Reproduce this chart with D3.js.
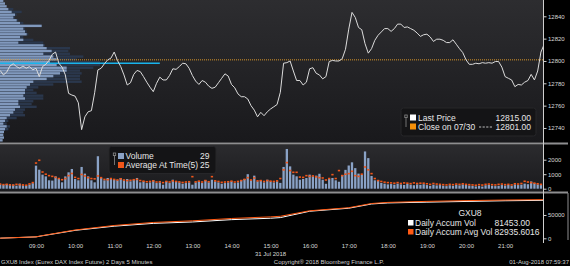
<!doctype html>
<html lang="en">
<head>
  <meta charset="utf-8">
  <title>GXU8 Index</title>
  <script src="https://d3js.org/d3.v7.min.js"></script>
  <style>
    body { margin: 0; background: #000; }
    svg { display: block; font-family: "Liberation Sans", Arial, sans-serif; }
  </style>
</head>
<body>
<div id="chart"></div>
<script>
var width = 570, height = 266;

// 5 minute closes, 08:05 .. 22:00 (31 Jul 2018)
var prices = [
  12791.5,12787.5,12790,12795.5,12797.5,12795,12793.5,12795.5,12793.5,12795,
  12792,12793.5,12786,12795,12797,12800.5,12806,12808,12798,12794.5,
  12787.5,12771,12769.5,12768.5,12762.5,12738.5,12750,12754.5,12755.5,12771.5,
  12792,12793.5,12797.5,12801,12802.5,12808,12800.5,12795,12787.5,12778.5,
  12780.5,12788,12791.5,12790.5,12786,12781,12776.5,12772.5,12780,12785.5,
  12783,12783,12787,12793,12792.5,12795,12798,12797.5,12793.5,12787,
  12782,12779,12782.5,12781,12777.5,12775.5,12776.5,12780.5,12784.5,12788.5,
  12786.5,12779,12776,12770.5,12768,12768,12766,12760,12756,12750,
  12754,12751,12754.5,12757,12759,12761,12772,12798,12798.5,12800,
  12791,12782.5,12782.5,12778.5,12781,12793,12794,12789,12787.5,12784,
  12786,12799.5,12800.5,12800,12800,12802,12810.5,12828.5,12843.5,12839,
  12830,12828,12815.5,12807,12811,12818.5,12823,12826,12829,12829,
  12826.5,12829,12833,12833,12830,12830.5,12829,12827.5,12825,12822,
  12823.5,12824,12821.5,12817.5,12819.5,12819.5,12818.5,12816.5,12816.5,12819,
  12815,12811,12807.5,12801,12797,12797,12798,12797.5,12798.5,12798,
  12798.5,12798,12799.5,12799.5,12794.5,12786,12784.5,12783,12777,12779,
  12778.5,12781,12782.5,12788,12783,12791,12808,12815
];

var volumes = [
  300,260,330,250,280,210,350,230,200,290,
  380,1590,1310,970,850,580,560,850,670,440,
  850,1130,1360,670,580,1500,1040,850,580,440,
  2240,740,580,740,670,620,580,740,580,670,
  510,620,740,440,510,390,440,580,390,440,
  275,510,390,620,510,440,345,390,440,275,
  440,510,390,580,440,620,510,440,345,390,
  440,510,390,440,580,670,1000,580,900,510,
  580,440,620,510,440,510,400,1500,2740,1540,
  970,855,620,670,740,970,855,900,1030,620,
  340,670,740,580,480,950,1300,1600,1820,1420,
  1040,950,2570,2110,880,580,600,400,350,300,
  320,280,350,300,260,330,280,240,300,270,
  310,250,200,280,230,260,210,180,240,200,
  270,230,300,260,220,190,160,200,150,240,
  260,210,180,200,250,220,260,200,300,250,
  280,350,310,500,380,300,250,29
];

var avgVolumes = [
  320,280,300,270,250,300,280,260,240,330,
  420,1770,1960,1150,1000,900,850,780,700,620,
  700,900,1050,780,700,980,880,760,700,680,
  880,760,640,620,700,640,600,680,600,560,
  580,620,640,560,520,480,500,540,460,480,
  420,500,460,540,500,470,430,460,480,830,
  470,520,460,560,480,830,540,500,440,460,
  480,520,460,500,560,640,760,600,740,540,
  560,500,560,520,500,540,700,1300,1800,1250,
  1130,1130,800,780,900,850,880,820,760,740,
  600,700,970,700,1250,900,1000,1040,1200,900,
  850,1000,1500,1300,1040,700,560,500,450,420,
  400,380,420,360,400,380,350,400,360,380,
  380,340,300,360,320,300,280,260,300,280,
  320,300,340,300,280,260,240,280,250,300,
  320,280,260,300,320,280,300,260,340,320,
  360,510,460,420,380,340,300,25
];

// volume at price, 2 days, rows of 2.5 points from 12855 down
var profileLight = [
  100,150,200,250,350,450,400,500,600,1250,
  700,750,800,600,700,550,1300,1400,1550,1300,
  1600,1700,1500,1700,2000,2000,1800,1600,1400,1000,
  900,800,750,750,700,750,550,550,600,450,
  400,300,200,150,100,200,150,120,100,120,80
];
var profileDark = [
  0,0,0,400,650,500,450,550,700,1250,
  750,800,850,700,1000,1300,1350,2100,2050,2100,
  2500,2300,3000,3000,2800,2400,2450,2400,2400,2450,
  1600,1150,1000,1100,1300,1300,1000,950,1100,750,
  700,750,500,250,200,300,250,0,0,0,0
];
var profileTop = 12855, profileStep = 2.5;
var pocPrice = 12798, pocEnd = "12:10";
var prevClose = 12801;

var accumTimes = ["08:05","09:00","09:10","10:00","11:00","12:00","13:00","14:00","15:00",
                  "15:15","16:00","17:00","17:35","18:00","19:00","20:00","21:00","22:00"];
var accumVol = [300,3000,5500,17000,26000,32000,35000,40000,43000,
                44400,58000,64500,73600,75800,77500,79000,80500,81453];
var accumAvg = [300,3100,5800,17800,27500,34000,37500,42500,46000,
                47200,59000,65600,74600,77000,79200,80800,82100,82936];

var hourLabels = ["09:00","10:00","11:00","12:00","13:00","14:00","15:00",
                  "16:00","17:00","18:00","19:00","20:00","21:00"];
var priceTicks = [12740,12760,12780,12800,12820,12840];
var volTicks = [0,1000,2000];
var accumTicks = [0,50000];

var parse = d3.utcParse("%H:%M");
var barTimes = d3.utcMinute.every(5).range(parse("08:05"), parse("22:01"));

var plotRight = 543;
var x = d3.scaleUtc().domain([parse("08:00"), parse("22:00")]).range([-3.08, 544.2]);
var yPrice = d3.scaleLinear().domain([12727, 12854.6]).range([142.5, 0]);
var yVol = d3.scaleLinear().domain([0, 3014]).range([188.7, 145]);
var yAcc = d3.scaleLinear().domain([0, 95000]).range([238.3, 194]);
var xProf = d3.scaleLinear().domain([0, 3000]).range([0, 100]);

var svg = d3.select('#chart').append('svg')
  .attr('width', width).attr('height', height);

var defs = svg.append('defs');
var g1 = defs.append('linearGradient').attr('id', 'bgPrice').attr('x1', 0).attr('x2', 0).attr('y1', 0).attr('y2', 1);
g1.append('stop').attr('offset', '0%').attr('stop-color', '#2d2d30');
g1.append('stop').attr('offset', '100%').attr('stop-color', '#19191c');
var g2 = defs.append('linearGradient').attr('id', 'bgVol').attr('x1', 0).attr('x2', 0).attr('y1', 0).attr('y2', 1);
g2.append('stop').attr('offset', '0%').attr('stop-color', '#2b2b2e');
g2.append('stop').attr('offset', '100%').attr('stop-color', '#1a1a1d');
defs.append('clipPath').attr('id', 'plotClip').append('rect')
  .attr('x', 0).attr('y', 0).attr('width', plotRight).attr('height', 243);

svg.append('rect').attr('width', width).attr('height', height).attr('fill', '#000');
svg.append('rect').attr('x', 0).attr('y', 0).attr('width', plotRight).attr('height', 142.5).attr('fill', 'url(#bgPrice)');
svg.append('rect').attr('x', 0).attr('y', 145).attr('width', plotRight).attr('height', 46.5).attr('fill', 'url(#bgVol)');

// separators
svg.append('rect').attr('x', 0).attr('y', 142.5).attr('width', 568).attr('height', 2).attr('fill', '#8e8e90');
svg.append('rect').attr('x', 0).attr('y', 191.5).attr('width', 568).attr('height', 2).attr('fill', '#8e8e90');
svg.append('line').attr('x1', 568).attr('x2', 568).attr('y1', 193).attr('y2', 240)
  .attr('stroke', '#8e8e90').attr('stroke-width', 1);

var plot = svg.append('g').attr('clip-path', 'url(#plotClip)');

// volume profile
function rowY(i) { return yPrice(profileTop - i * profileStep); }
function rowH(i) { return yPrice(profileTop - (i + 1) * profileStep) - yPrice(profileTop - i * profileStep) - 0.4; }
plot.selectAll('.profDark').data(profileDark).enter().append('rect')
  .attr('class', 'profDark')
  .attr('x', 0).attr('y', function(d, i) { return rowY(i); })
  .attr('width', function(d) { return xProf(d); })
  .attr('height', function(d, i) { return rowH(i); })
  .attr('fill', '#2a374c');
plot.selectAll('.profLight').data(profileLight).enter().append('rect')
  .attr('class', 'profLight')
  .attr('x', 0).attr('y', function(d, i) { return rowY(i); })
  .attr('width', function(d) { return xProf(d); })
  .attr('height', function(d, i) { return rowH(i); })
  .attr('fill', '#8199bd');

// point of control
plot.append('line')
  .attr('x1', 0).attr('x2', x(parse(pocEnd)))
  .attr('y1', yPrice(pocPrice)).attr('y2', yPrice(pocPrice))
  .attr('stroke', '#19b4ec').attr('stroke-width', 1.6);

// previous close
plot.append('line')
  .attr('x1', 0).attr('x2', plotRight)
  .attr('y1', yPrice(prevClose)).attr('y2', yPrice(prevClose))
  .attr('stroke', '#d9962a').attr('stroke-width', 1).attr('stroke-dasharray', '1,1');

// price line
var priceLine = d3.line()
  .x(function(d, i) { return x(barTimes[i]); })
  .y(function(d) { return yPrice(d); });
plot.append('path').datum(prices)
  .attr('d', priceLine)
  .attr('fill', 'none').attr('stroke', '#dcdcdc').attr('stroke-width', 1);

// volume bars
plot.selectAll('.vol').data(volumes).enter().append('rect')
  .attr('class', 'vol')
  .attr('x', function(d, i) { return x(barTimes[i]) - 1.15; })
  .attr('y', function(d) { return yVol(d); })
  .attr('width', 2.3)
  .attr('height', function(d) { return yVol(0) - yVol(d); })
  .attr('fill', '#8aa2c6');
plot.selectAll('.avg').data(avgVolumes).enter().append('rect')
  .attr('class', 'avg')
  .attr('x', function(d, i) { return x(barTimes[i]) - 1.15; })
  .attr('y', function(d) { return yVol(d) - 0.8; })
  .attr('width', 2.3).attr('height', 1.6)
  .attr('fill', '#f0561a');

// accumulated volume
var accLine = d3.line()
  .x(function(d, i) { return x(parse(accumTimes[i])); })
  .y(function(d) { return yAcc(d); });
plot.append('path').datum(accumVol).attr('d', accLine)
  .attr('fill', 'none').attr('stroke', '#ffffff').attr('stroke-width', 1);
plot.append('path').datum(accumAvg).attr('d', accLine)
  .attr('fill', 'none').attr('stroke', '#ff5a14').attr('stroke-width', 1);

// right axes
svg.append('line').attr('x1', plotRight + 0.5).attr('x2', plotRight + 0.5).attr('y1', 0).attr('y2', 243)
  .attr('stroke', '#cfcfcf').attr('stroke-width', 1);

function styleAxis(g) {
  g.select('.domain').remove();
  g.selectAll('.tick line').attr('stroke', '#cfcfcf');
  g.selectAll('.tick text').attr('fill', '#d8d8d8').style('font-size', '6px')
    .style('font-family', '"Liberation Sans", Arial, sans-serif');
}
svg.append('g').attr('transform', 'translate(' + (plotRight + 0.5) + ',0)')
  .call(d3.axisRight(yPrice).tickValues(priceTicks).tickSize(3).tickPadding(1.5).tickFormat(d3.format('d')))
  .call(styleAxis);
svg.append('g').attr('transform', 'translate(' + (plotRight + 0.5) + ',0)')
  .call(d3.axisRight(yVol).tickValues(volTicks).tickSize(3).tickPadding(1.5).tickFormat(d3.format('d')))
  .call(styleAxis);
svg.append('g').attr('transform', 'translate(' + (plotRight + 0.5) + ',0)')
  .call(d3.axisRight(yAcc).tickValues(accumTicks).tickSize(3).tickPadding(1.5).tickFormat(d3.format('d')))
  .call(styleAxis);

// time axis
svg.append('g').attr('transform', 'translate(0,243)')
  .call(d3.axisBottom(x).tickValues(hourLabels.map(parse)).tickSize(0).tickPadding(1)
    .tickFormat(d3.utcFormat('%H:%M')))
  .call(styleAxis);

function txt(xp, yp, s, size, anchor, fill) {
  return svg.append('text').attr('x', xp).attr('y', yp).text(s)
    .attr('font-size', size).attr('text-anchor', anchor || 'start').attr('fill', fill || '#e6e6e6');
}
txt(x(parse("15:00")), 256, '31 Jul 2018', '6px', 'middle', '#d8d8d8');
txt(1, 264, 'GXU8 Index (Eurex DAX Index Future) 2 Days 5 Minutes', '6px', 'start', '#cfcfcf');
txt(329, 264, 'Copyright\u00ae 2018 Bloomberg Finance L.P.', '6px', 'middle', '#cfcfcf');
txt(569, 264, '01-Aug-2018 07:59:37', '6px', 'end', '#cfcfcf');

function keyIcon(xp, yp) {
  svg.append('rect').attr('x', xp - 1.2).attr('y', yp).attr('width', 2.4).attr('height', 2.6)
    .attr('fill', 'none').attr('stroke', '#8a8a8a').attr('stroke-width', 0.8);
  svg.append('line').attr('x1', xp).attr('x2', xp).attr('y1', yp + 2.6).attr('y2', yp + 12)
    .attr('stroke', '#8a8a8a').attr('stroke-width', 0.8);
}

// price legend
svg.append('rect').attr('x', 401).attr('y', 108).attr('width', 135).attr('height', 28).attr('rx', 2.5)
  .attr('fill', '#141416').attr('stroke', '#262629');
keyIcon(406, 115);
svg.append('rect').attr('x', 410).attr('y', 114.5).attr('width', 6).attr('height', 6).attr('fill', '#ffffff');
svg.append('rect').attr('x', 410).attr('y', 123.5).attr('width', 6).attr('height', 6).attr('fill', '#f5900a');
txt(418, 120.5, 'Last Price', '8.5px');
txt(531, 120.5, '12815.00', '8.5px', 'end');
txt(418, 129.5, 'Close on 07/30', '8.5px');
svg.append('line').attr('x1', 479).attr('x2', 493).attr('y1', 127).attr('y2', 127)
  .attr('stroke', '#d0d0d0').attr('stroke-width', 0.9).attr('stroke-dasharray', '2.2,1.4');
txt(531, 129.5, '12801.00', '8.5px', 'end');

// volume legend
svg.append('rect').attr('x', 109).attr('y', 146.5).attr('width', 107).attr('height', 27).attr('rx', 2.5)
  .attr('fill', '#141416').attr('stroke', '#262629');
keyIcon(114.5, 153);
svg.append('rect').attr('x', 118).attr('y', 153).attr('width', 6).attr('height', 6).attr('fill', '#8aa2c6');
svg.append('rect').attr('x', 118).attr('y', 162).attr('width', 6).attr('height', 6).attr('fill', '#f0561a');
txt(125.5, 159, 'Volume', '8.5px');
txt(209.5, 159, '29', '8.5px', 'end');
txt(125.5, 167.5, 'Average At Time(5)', '8.5px');
txt(209.5, 167.5, '25', '8.5px', 'end');

// accumulated volume legend
txt(470, 215.5, 'GXU8', '8.5px', 'middle');
svg.append('rect').attr('x', 408).attr('y', 220).attr('width', 5.5).attr('height', 5.5).attr('fill', '#ffffff');
svg.append('rect').attr('x', 408).attr('y', 229).attr('width', 5.5).attr('height', 5.5).attr('fill', '#ff5a14');
txt(415, 226, 'Daily Accum Vol', '8.5px');
txt(494.5, 226, '81453.00', '8.5px');
txt(415, 235, 'Daily Accum Avg Vol', '8.5px');
txt(494.5, 235, '82935.6016', '8.5px');
</script>
</body>
</html>
